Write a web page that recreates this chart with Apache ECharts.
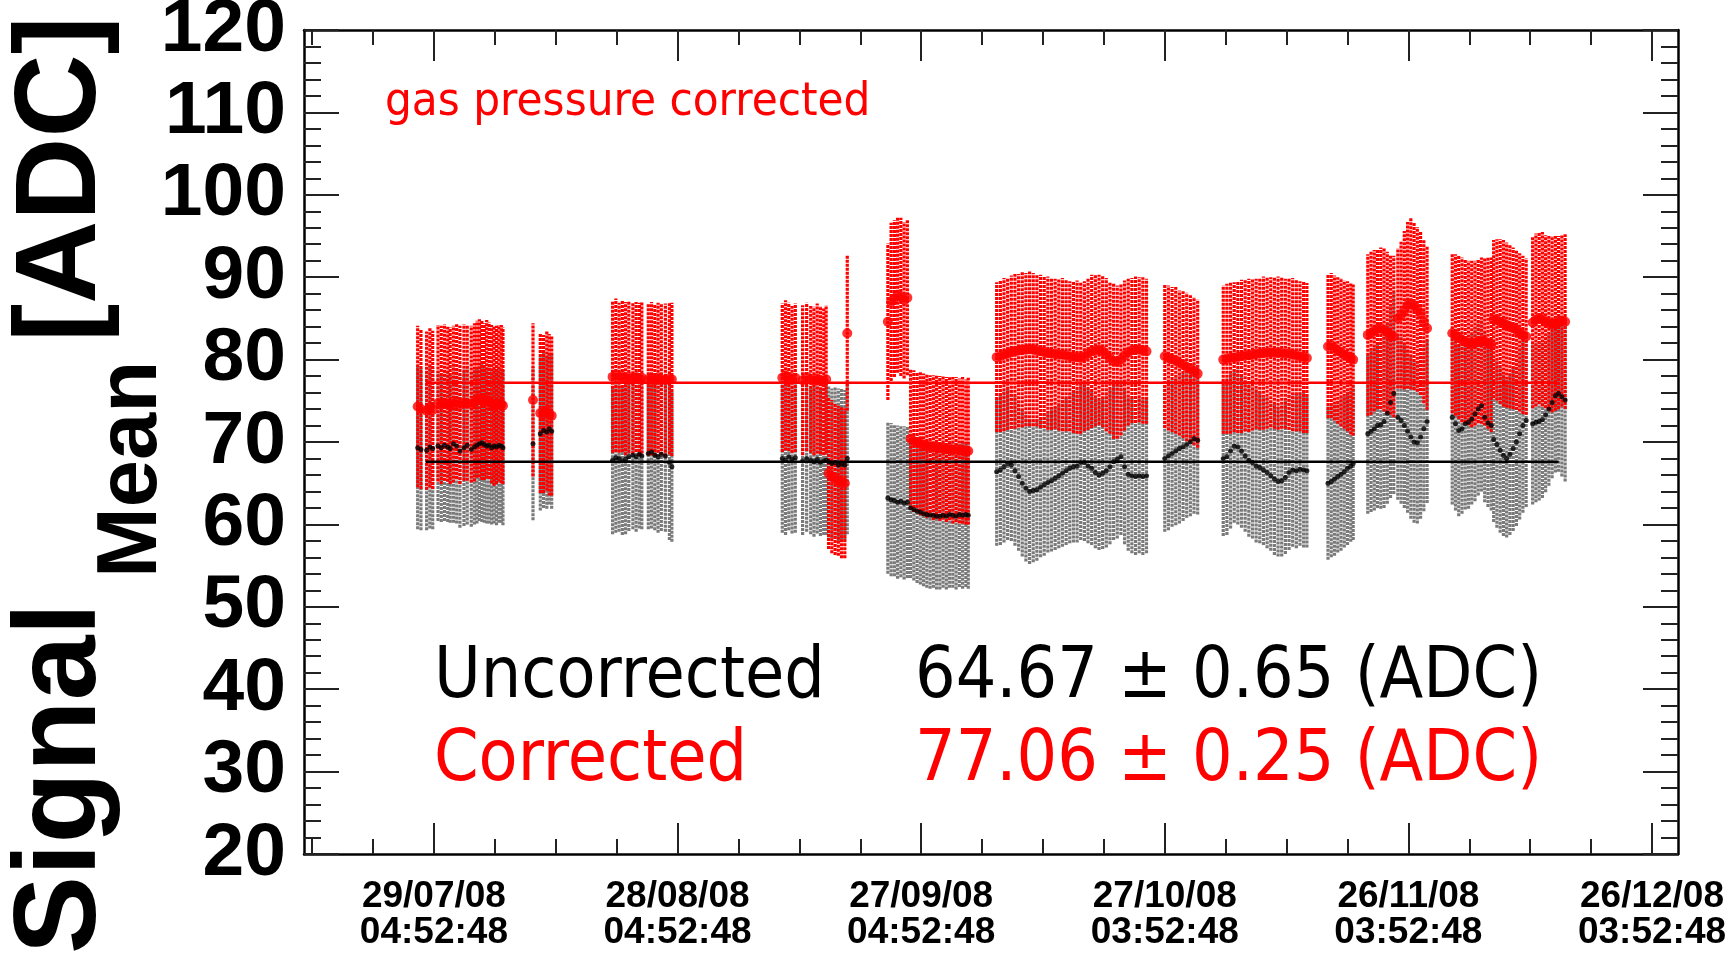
<!DOCTYPE html>
<html>
<head>
<meta charset="utf-8">
<title>Signal mean vs time</title>
<script src="https://cdn.jsdelivr.net/npm/echarts@6.0.0/dist/echarts.min.js"></script>
<style>
  html, body { margin: 0; padding: 0; background: #fff; }
  #chart { width: 1736px; height: 956px; }
</style>
</head>
<body>
<div id="chart"></div>
<script>
// run time, in days since 29/07/08 04:52:48
const runDay = [
  -2.0, -1.6, -0.9, -0.5, -0.15,
  0.5, 0.9, 1.3, 1.7, 2.0,
  2.4, 2.8, 3.2, 3.7, 4.1, 4.6,
  5.0, 5.3, 5.6, 5.9, 6.2, 6.5, 6.8, 7.1, 7.4, 7.7, 8.0, 8.3, 8.5,
  12.2,
  13.1, 13.5, 13.9, 14.2, 14.5,
  22.0, 22.4, 22.8, 23.2, 23.6, 24.0,
  24.5, 24.9, 25.3, 25.6,
  26.4, 26.8, 27.2, 27.6, 28.0, 28.5, 29.0, 29.3,
  42.9, 43.3, 43.7, 44.1, 44.5, 45.4, 45.9, 46.4, 46.8, 47.2, 47.6, 48.0, 48.3,
  48.6, 49.0, 49.4, 49.8, 50.2, 50.6,
  50.9,
  55.9, 56.3, 56.7, 57.1, 57.5, 57.9, 58.3,
  58.7, 59.1, 59.5, 59.9, 60.3, 60.7, 61.1, 61.5, 61.9, 62.3, 62.7, 63.1, 63.5, 63.9, 64.3, 64.7, 65.1, 65.5, 65.8,
  69.3, 69.75, 70.2, 70.65, 71.1, 71.55, 72.0, 72.45, 72.9, 73.35, 73.8, 74.25, 74.7, 75.15, 75.6, 76.05, 76.5, 76.95, 77.4, 77.85, 78.3,
  78.75, 79.2, 79.65, 80.1, 80.55, 81.0, 81.45, 81.9, 82.35, 82.8, 83.25, 83.7, 84.15, 84.6, 85.05, 85.5, 85.95, 86.4, 86.85, 87.3, 87.75,
  90.0, 90.45, 90.9, 91.35, 91.8, 92.25, 92.7, 93.15, 93.6, 94.05,
  97.2, 97.65, 98.1, 98.55, 99.0, 99.45, 99.9, 100.35, 100.8, 101.25, 101.7, 102.15,
  102.6, 103.05, 103.5, 103.95, 104.4, 104.85, 105.3, 105.75, 106.2, 106.65, 107.1, 107.5,
  110.1, 110.5, 110.9, 111.3, 111.7, 112.1, 112.5, 112.9, 113.2,
  115.0, 115.4, 115.8, 116.2, 116.6, 117.0, 117.4, 117.8, 118.2,
  118.7, 119.1, 119.5, 119.9, 120.3, 120.7, 121.1, 121.5, 121.9, 122.3,
  125.4, 125.8, 126.2, 126.6, 127.0, 127.4, 127.8, 128.2, 128.6, 129.0, 129.4, 129.8, 130.2,
  130.5, 130.9, 131.3, 131.7, 132.1, 132.5, 132.9, 133.3, 133.7, 134.1, 134.5,
  135.3, 135.7, 136.1, 136.5, 136.9, 137.3, 137.7, 138.1, 138.5, 138.9, 139.3
];

// uncorrected signal mean and its error (ADC)
const uncorrMean = [
  69.3, 69.1, 69.0, 69.4, 69.2,
  69.5, 69.3, 69.6, 69.4, 69.2,
  69.8, 69.5, 68.9, 69.3, 69.6, 69.1,
  69.4, 69.6, 69.8, 69.9, 69.7, 69.5, 69.6, 69.3, 69.5, 69.4, 69.6, 69.5, 69.3,
  69.8,
  71.0, 71.4, 71.2, 71.6, 71.3,
  67.8, 68.1, 68.0, 67.7, 67.9, 68.2,
  68.4, 68.2, 68.5, 68.3,
  68.6, 68.8, 68.4, 68.2, 68.5, 68.3, 67.5, 67.0,
  68.0, 67.8, 68.2, 67.9, 68.1, 67.7, 68.0, 67.8, 67.6, 67.9, 67.5, 67.7, 67.8,
  67.6, 67.4, 67.5, 67.2, 67.3, 67.2,
  68.0,
  63.2, 63.0, 62.9, 62.7, 62.8, 62.6, 62.7,
  62.0, 61.8, 61.6, 61.5, 61.3, 61.2, 61.1, 61.1, 61.0, 61.0, 61.1, 61.0, 61.2, 61.1, 61.0, 61.2, 61.1, 61.2, 61.1,
  66.4, 66.6, 67.0, 67.4, 67.2, 66.5, 65.8, 65.0, 64.4, 64.0, 64.1, 64.2, 64.5, 64.8, 65.1, 65.3, 65.6, 65.9, 66.2, 66.5, 66.8,
  67.0, 67.1, 67.5, 67.5, 67.1, 66.8, 66.3, 66.0, 66.2, 66.5, 67.0, 67.6, 67.9, 68.2, 67.0, 66.1, 65.9, 65.8, 65.9, 65.8, 65.9,
  68.0, 68.3, 68.6, 68.9, 69.2, 69.4, 69.7, 70.0, 70.4, 70.2,
  68.0, 68.2, 68.9, 69.5, 69.4, 68.9, 68.3, 67.8, 67.5, 67.1, 66.9, 66.6,
  66.3, 65.9, 65.5, 65.2, 65.3, 65.7, 66.3, 66.6, 66.5, 66.7, 66.6, 66.5,
  65.0, 65.2, 65.5, 65.8, 66.1, 66.4, 66.8, 67.1, 67.4,
  71.0, 71.3, 71.6, 72.0, 72.1, 72.5, 73.5, 74.8, 75.9,
  73.0, 72.6, 72.0, 71.3, 70.6, 70.0, 69.9, 70.6, 71.6, 72.5,
  73.0, 72.2, 71.4, 71.6, 72.2, 72.4, 72.8, 73.4, 74.0, 74.4, 73.0, 72.3, 72.0,
  70.3, 69.7, 69.0, 68.4, 68.0, 68.5, 69.2, 70.0, 71.0, 72.0, 72.6,
  72.2, 72.4, 72.5, 72.7, 73.3, 74.0, 74.8, 75.6, 75.9, 75.5, 75.1
];
const uncorrErr = [
  9.9, 9.8, 9.7, 9.9, 9.8,
  9.1, 9.0, 9.2, 9.1, 9.0,
  9.6, 9.4, 9.3, 9.5, 9.6, 9.4,
  9.4, 9.5, 9.4, 9.6, 9.5, 9.4, 9.5, 9.3, 9.4, 9.5, 9.4, 9.3, 9.4,
  9.3,
  9.3, 9.4, 9.3, 9.2, 9.4,
  9.0, 9.1, 8.9, 9.0, 9.1, 9.0,
  9.0, 9.1, 9.0, 8.9,
  9.2, 9.3, 9.1, 9.2, 9.3, 9.2, 9.4, 9.1,
  9.0, 9.1, 8.9, 9.0, 9.1, 9.0, 8.9, 9.0, 9.1, 9.0, 8.9, 9.0, 9.1,
  9.2, 9.1, 9.2, 9.3, 9.2, 9.1,
  9.2,
  9.2, 9.3, 9.2, 9.3, 9.2, 9.3, 9.2,
  8.5, 8.6, 8.7, 8.8, 8.8, 8.9, 8.9, 8.8, 8.9, 8.9, 8.8, 8.9, 8.9, 8.8, 8.9, 8.8, 8.9, 8.8, 8.9,
  9.0, 9.1, 9.2, 9.3, 9.2, 9.1, 9.0, 8.9, 8.9, 8.8, 8.7, 8.6, 8.5, 8.6, 8.5, 8.6, 8.7, 8.8, 8.9, 9.0, 9.1,
  9.2, 9.3, 9.4, 9.5, 9.4, 9.3, 9.2, 9.1, 9.2, 9.3, 9.4, 9.5, 9.6, 9.5, 9.4, 9.3, 9.4, 9.5, 9.4, 9.5, 9.4,
  8.9, 9.0, 8.9, 9.0, 9.1, 9.0, 8.9, 9.0, 9.1, 9.0,
  9.4, 9.5, 9.4, 9.3, 9.4, 9.3, 9.2, 9.3, 9.2, 9.3, 9.2, 9.1,
  9.2, 9.1, 9.2, 9.1, 9.2, 9.3, 9.4, 9.3, 9.4, 9.3, 9.4, 9.3,
  9.3, 9.2, 9.3, 9.2, 9.3, 9.2, 9.3, 9.2, 9.3,
  9.7, 9.8, 9.9, 10.0, 10.2, 10.5, 11.0, 11.6, 12.2,
  10.0, 10.1, 10.0, 9.9, 9.9, 9.8, 9.8, 9.9, 10.0, 9.9,
  10.6, 10.5, 10.4, 10.3, 10.4, 10.5, 10.4, 10.6, 10.5, 10.4, 10.3, 10.2, 10.3,
  10.0, 10.1, 10.0, 9.8, 9.6, 9.8, 10.0, 10.2, 10.4, 10.6, 10.5,
  9.8, 9.7, 9.6, 9.5, 9.4, 9.3, 9.2, 9.3, 9.5, 9.7, 9.9
];

// gas pressure corrected signal mean and its error (ADC)
const corrMean = [
  74.3, 74.0, 73.8, 74.2, 73.9,
  74.7, 74.5, 74.8, 74.6, 74.4,
  74.6, 74.9, 74.5, 74.8, 74.7, 74.6,
  74.8, 75.2, 75.3, 75.1, 74.9, 75.2, 75.0, 74.6, 74.4, 74.5, 74.7, 74.6, 74.4,
  75.1,
  73.5, 73.4, 73.8, 73.3, 73.2,
  77.9, 78.1, 77.8, 78.0, 77.7, 77.9,
  77.7, 77.9, 77.6, 77.8,
  77.6, 77.7, 77.5, 77.8, 77.6, 77.5, 77.7, 77.6,
  77.8, 78.1, 77.9, 77.6, 77.8, 77.5, 77.9, 77.6, 77.4, 77.7, 77.5, 77.3, 77.6,
  66.2, 65.8, 65.5, 65.3, 65.1, 65.0,
  83.2,
  84.6, 87.0, 87.4, 87.8, 87.6, 87.2, 87.5,
  70.4, 70.1, 70.0, 69.8, 69.7, 69.5, 69.5, 69.3, 69.4, 69.2, 69.3, 69.1, 69.2, 69.0, 69.1, 68.9, 69.0, 68.8, 68.9,
  80.3, 80.4, 80.6, 80.7, 80.9, 81.0, 81.1, 81.2, 81.2, 81.3, 81.2, 81.1, 81.0, 80.9, 80.8, 80.7, 80.7, 80.6, 80.6, 80.5, 80.4,
  80.3, 80.3, 80.2, 80.4, 80.7, 81.0, 81.1, 81.2, 81.0, 80.6, 80.2, 79.8, 79.7, 80.0, 80.5, 80.9, 81.1, 81.2, 81.2, 81.1, 81.0,
  80.4, 80.2, 80.0, 79.9, 79.6, 79.4, 79.1, 78.9, 78.6, 78.3,
  80.0, 80.1, 80.2, 80.3, 80.3, 80.4, 80.5, 80.5, 80.6, 80.7, 80.7, 80.8,
  80.8, 80.9, 80.8, 80.8, 80.8, 80.7, 80.7, 80.6, 80.5, 80.4, 80.3, 80.2,
  81.6, 81.7, 81.4, 81.1, 80.9, 80.6, 80.4, 80.1, 80.0,
  83.0, 83.2, 83.5, 83.7, 83.8, 83.6, 83.3, 83.0, 82.8,
  85.0, 85.4, 86.0, 86.6, 86.8, 86.5, 86.1, 85.6, 84.6, 83.8,
  83.2, 83.0, 82.7, 82.4, 82.2, 82.0, 81.9, 82.0, 82.2, 82.3, 82.2, 82.0, 81.8,
  84.9, 84.8, 84.6, 84.4, 84.2, 84.0, 83.8, 83.6, 83.3, 83.0, 82.8,
  84.5, 84.8, 85.0, 84.9, 84.6, 84.4, 84.3, 84.4, 84.5, 84.7, 84.6
];
const corrErr = [
  9.8, 9.7, 9.6, 9.7, 9.6,
  9.5, 9.6, 9.5, 9.4, 9.5,
  9.5, 9.4, 9.6, 9.5, 9.4, 9.5,
  9.6, 9.5, 9.6, 9.7, 9.5, 9.6, 9.5, 9.6, 9.7, 9.6, 9.5, 9.6, 9.5,
  9.3,
  9.7, 9.6, 9.7, 9.8, 9.7,
  9.2, 9.3, 9.1, 9.2, 9.3, 9.2,
  9.2, 9.1, 9.3, 9.2,
  9.2, 9.3, 9.2, 9.1, 9.2, 9.3, 9.2, 9.3,
  9.0, 9.1, 9.0, 8.9, 9.0, 9.1, 9.0, 8.9, 9.0, 9.1, 9.0, 8.9, 9.0,
  9.2, 9.3, 9.2, 9.1, 9.2, 9.1,
  9.4,
  9.5, 9.6, 9.5, 9.4, 9.6, 9.5, 9.4,
  8.5, 8.6, 8.5, 8.7, 8.6, 8.7, 8.6, 8.8, 8.7, 8.8, 8.7, 8.8, 8.7, 8.9, 8.8, 8.8, 8.9, 8.8, 8.9,
  9.1, 9.2, 9.3, 9.2, 9.3, 9.4, 9.3, 9.4, 9.3, 9.4, 9.3, 9.2, 9.3, 9.2, 9.3, 9.2, 9.1, 9.2, 9.3, 9.2, 9.1,
  9.2, 9.3, 9.2, 9.1, 9.2, 9.3, 9.2, 9.1, 9.2, 9.3, 9.2, 9.4, 9.3, 9.2, 9.1, 8.9, 8.8, 8.9, 8.8, 8.9, 8.8,
  8.7, 8.8, 8.8, 8.9, 8.8, 8.9, 9.0, 8.9, 9.0, 9.0,
  9.0, 9.1, 9.2, 9.1, 9.2, 9.3, 9.2, 9.3, 9.2, 9.1, 9.2, 9.3,
  9.2, 9.1, 9.2, 9.3, 9.2, 9.1, 9.2, 9.3, 9.2, 9.1, 9.2, 9.1,
  8.7, 8.8, 8.8, 8.9, 9.0, 9.0, 9.1, 9.2, 9.2,
  9.8, 9.9, 9.8, 9.7, 9.8, 9.9, 9.8, 9.7, 9.8,
  8.5, 8.9, 9.6, 10.1, 10.4, 10.2, 10.0, 9.9, 9.9, 9.9,
  9.7, 9.8, 9.9, 10.0, 9.9, 10.0, 10.1, 10.0, 9.9, 10.1, 10.2, 10.4, 10.6,
  9.6, 9.8, 10.0, 10.1, 10.0, 9.9, 9.8, 9.7, 9.6, 9.6, 9.5,
  10.4, 10.5, 10.4, 10.6, 10.5, 10.6, 10.7, 10.6, 10.5, 10.4, 10.6
];

// flat fits drawn across the whole period
const fitDays = [-1.0, 138.5];
const fitUncorrected = 67.6;
const fitCorrected = 77.2;

// time axis labels, every 30 days
const tickDays = [0, 30, 60, 90, 120, 150];
const tickLabels = [
  "29/07/08\n04:52:48", "28/08/08\n04:52:48", "27/09/08\n04:52:48",
  "27/10/08\n03:52:48", "26/11/08\n03:52:48", "26/12/08\n03:52:48"
];
const minorDays = [];
for (let d = -15; d <= 150; d += 7.5) {
  if (tickDays.indexOf(d) < 0) minorDays.push(d);
}

const RED = "#ff0000";
const GREY = "#7a7a7a";
const TICK = "#222";
const xMin = -16, xMax = 153.2;

function timeAxis(position, values, length, mainAxis) {
  return {
    type: "value", position: position, min: xMin, max: xMax,
    axisLine: { show: mainAxis, onZero: false, lineStyle: { color: "#000", width: 2.5 } },
    axisTick: { show: true, inside: true, length: length, customValues: values,
      lineStyle: { color: TICK, width: 2 } },
    axisLabel: (mainAxis && position === "bottom") ? {
      customValues: tickDays,
      formatter: function (v) { return tickLabels[tickDays.indexOf(v)]; },
      fontFamily: "Liberation Sans", fontWeight: "bold", fontSize: 37,
      lineHeight: 36, margin: 25, color: "#000"
    } : { show: false },
    splitLine: { show: false }
  };
}

function signalAxis(position) {
  return {
    type: "value", position: position, min: 20, max: 120, interval: 10,
    axisLine: { show: true, onZero: false, lineStyle: { color: "#000", width: 2.5 } },
    axisTick: { show: true, inside: true, length: 35, lineStyle: { color: TICK, width: 2 } },
    minorTick: { show: true, splitNumber: 5, length: 17, lineStyle: { color: TICK, width: 2 } },
    axisLabel: position === "left" ? {
      fontFamily: "Liberation Sans", fontWeight: "bold", fontSize: 75,
      color: "#000", margin: 18, padding: [18, 0, 0, 0]
    } : { show: false },
    splitLine: { show: false },
    minorSplitLine: { show: false }
  };
}

function errorBars(name, means, errs, color, z) {
  return {
    name: name, type: "custom", z: z, silent: true,
    data: runDay.map(function (d, i) { return [d, means[i] - errs[i], means[i] + errs[i]]; }),
    encode: { x: 0, y: [1, 2] },
    renderItem: function (params, api) {
      const lo = api.coord([api.value(0), api.value(1)]);
      const hi = api.coord([api.value(0), api.value(2)]);
      return {
        type: "line",
        shape: { x1: lo[0], y1: lo[1], x2: hi[0], y2: hi[1] },
        style: { stroke: color, lineWidth: 3.2, lineDash: [3, 1] }
      };
    }
  };
}

function markers(name, means, color, size, z) {
  return {
    name: name, type: "scatter", z: z, silent: true,
    symbol: "circle", symbolSize: size,
    itemStyle: { color: color },
    data: runDay.map(function (d, i) { return [d, means[i]]; })
  };
}

function fitLine(name, level, color, z) {
  return {
    name: name, type: "line", z: z, silent: true, symbol: "none",
    lineStyle: { color: color, width: 2.5 },
    data: fitDays.map(function (d) { return [d, level]; })
  };
}

const textFont = '"DejaVu Sans"';
function label(text, x, baseline, size, color) {
  return {
    type: "text", x: x, y: baseline - 0.346 * size, scaleX: 0.9,
    style: { text: text, fill: color, font: size + "px " + textFont,
      textAlign: "left", textVerticalAlign: "middle" }
  };
}
function titlePart(text, baselineX, startY, size) {
  return {
    type: "text", x: baselineX - 0.3465 * size, y: startY, rotation: Math.PI / 2,
    style: { text: text, fill: "#000", font: "bold " + size + 'px "Liberation Sans"',
      textAlign: "left", textVerticalAlign: "middle" }
  };
}

const option = {
  animation: false,
  backgroundColor: "#fff",
  grid: { left: 304, right: 58, top: 30, bottom: 102, containLabel: false, outerBoundsMode: "none" },
  xAxis: [
    timeAxis("bottom", tickDays, 31, true),
    timeAxis("bottom", minorDays, 15, false),
    timeAxis("top", tickDays, 31, true),
    timeAxis("top", minorDays, 15, false)
  ],
  yAxis: [signalAxis("left"), signalAxis("right")],
  series: [
    errorBars("Uncorrected error", uncorrMean, uncorrErr, GREY, 2),
    errorBars("Corrected error", corrMean, corrErr, RED, 3),
    markers("Uncorrected", uncorrMean, "#000", 5, 4),
    markers("Corrected", corrMean, RED, 10, 5),
    fitLine("Corrected fit", fitCorrected, RED, 6),
    fitLine("Uncorrected fit", fitUncorrected, "#000", 6)
  ],
  graphic: [
    titlePart("Signal", 103, 954, 117),
    titlePart("Mean", 162, 578, 85),
    titlePart("[ADC]", 103, 342, 115),
    label("gas pressure corrected", 385, 119, 47, RED),
    label("Uncorrected", 434, 703, 71, "#000"),
    label("64.67 \u00b1 0.65 (ADC)", 915, 703, 71, "#000"),
    label("Corrected", 434, 786, 71, RED),
    label("77.06 \u00b1 0.25 (ADC)", 915, 786, 71, RED)
  ]
};

const chart = echarts.init(document.getElementById("chart"));
chart.setOption(option);
</script>
</body>
</html>
